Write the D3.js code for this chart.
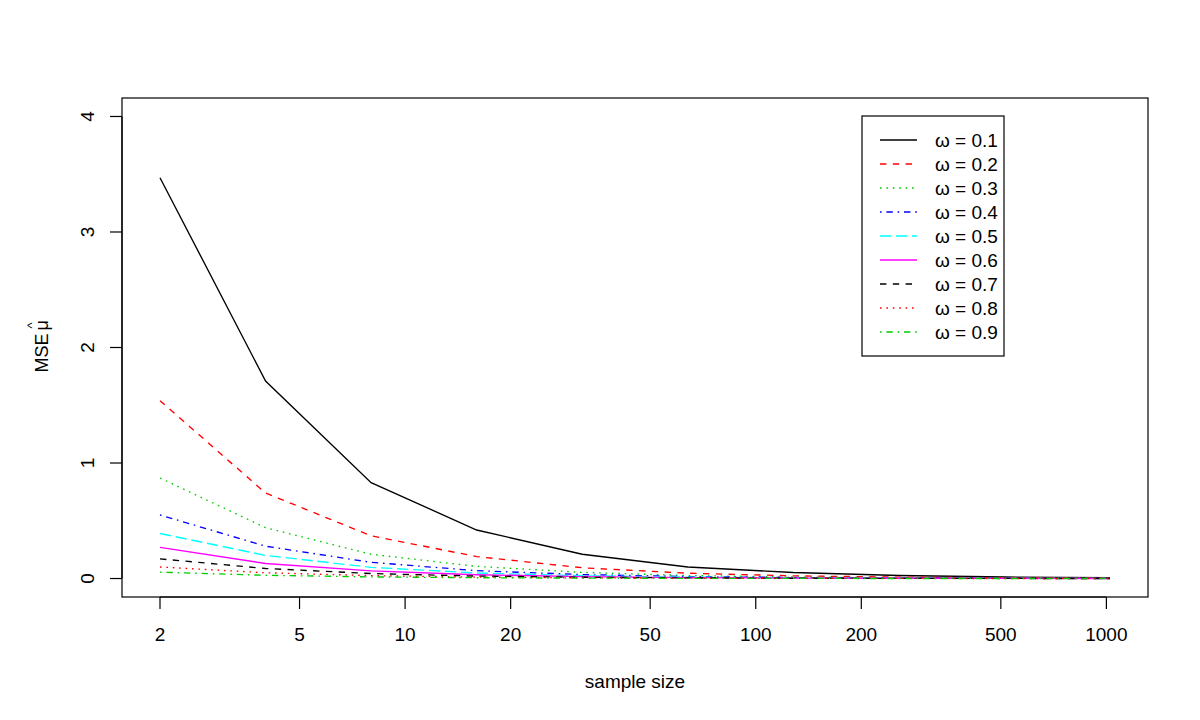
<!DOCTYPE html>
<html>
<head>
<meta charset="utf-8">
<script src="https://cdn.jsdelivr.net/npm/d3@7"></script>
<style>
  html, body { margin: 0; padding: 0; background: #fff; }
  svg { display: block; }
  text { font-family: "Liberation Sans", Arial, Helvetica, sans-serif; fill: #000; }
</style>
</head>
<body>
<svg id="chart" width="1200" height="720"></svg>
<script>
// ---- data ----
const sampleSizes = [2, 4, 8, 16, 32, 64, 128, 256, 512, 1024];
const omegaLabels = ["0.1", "0.2", "0.3", "0.4", "0.5", "0.6", "0.7", "0.8", "0.9"];
const mse01 = [3.47, 1.71, 0.83, 0.42, 0.21, 0.10, 0.052, 0.026, 0.013, 0.0065];
const mse02 = [1.54, 0.74, 0.37, 0.19, 0.093, 0.046, 0.023, 0.012, 0.006, 0.003];
const mse03 = [0.87, 0.44, 0.21, 0.105, 0.053, 0.026, 0.013, 0.0066, 0.0033, 0.0016];
const mse04 = [0.55, 0.28, 0.14, 0.068, 0.034, 0.017, 0.0085, 0.0042, 0.0021, 0.001];
const mse05 = [0.39, 0.20, 0.097, 0.048, 0.024, 0.012, 0.006, 0.003, 0.0015, 0.0007];
const mse06 = [0.27, 0.13, 0.066, 0.033, 0.016, 0.008, 0.004, 0.002, 0.001, 0.0005];
const mse07 = [0.17, 0.087, 0.043, 0.021, 0.011, 0.0053, 0.0027, 0.0013, 0.0007, 0.0003];
const mse08 = [0.10, 0.05, 0.025, 0.0125, 0.006, 0.003, 0.0015, 0.0008, 0.0004, 0.0002];
const mse09 = [0.055, 0.028, 0.014, 0.007, 0.0035, 0.0017, 0.0009, 0.0004, 0.0002, 0.0001];
const seriesValues = [mse01, mse02, mse03, mse04, mse05, mse06, mse07, mse08, mse09];
const xTicks = [2, 5, 10, 20, 50, 100, 200, 500, 1000];
const yTicks = [0, 1, 2, 3, 4];

// ---- styles (R matplot defaults: col 1:6, lty 1:5) ----
const colors = ["#000000", "#FF0000", "#00CD00", "#0000FF", "#00FFFF", "#FF00FF", "#000000", "#FF0000", "#00CD00"];
const s = 1.6;
const dashes = [null, [4*s,4*s], [1*s,3*s], [1*s,3*s,4*s,3*s], [7*s,3*s], null, [4*s,4*s], [1*s,3*s], [1*s,3*s,4*s,3*s]];

const svg = d3.select("#chart");
const L = 122, R = 1148, T = 98, B = 597;
const FS = 19;

// R-style 4% extension in log space
const lx0 = Math.log10(2), lx1 = Math.log10(1024), ext = (lx1 - lx0) * 0.04;
const x = d3.scaleLog().domain([Math.pow(10, lx0 - ext), Math.pow(10, lx1 + ext)]).range([L, R]);
const y = d3.scaleLinear().domain([-0.16, 4.16]).range([B, T]);

// Lines
const line = d3.line().x(d => x(d[0])).y(d => y(d[1]));
seriesValues.forEach((vals, i) => {
  const pts = sampleSizes.map((n, j) => [n, vals[j]]);
  svg.append("path")
    .attr("d", line(pts))
    .attr("fill", "none")
    .attr("stroke", colors[i])
    .attr("stroke-width", 1.35)
    .attr("stroke-dasharray", dashes[i] ? dashes[i].join(",") : null);
});

// Box
svg.append("rect").attr("x", L).attr("y", T).attr("width", R - L).attr("height", B - T)
  .attr("fill", "none").attr("stroke", "#000").attr("stroke-width", 1.2);

// X axis
const xAxis = svg.append("g");
xAxis.append("line").attr("x1", x(2)).attr("x2", x(1000)).attr("y1", B).attr("y2", B)
  .attr("stroke", "#000").attr("stroke-width", 1.2);
xTicks.forEach(t => {
  xAxis.append("line").attr("x1", x(t)).attr("x2", x(t)).attr("y1", B).attr("y2", B + 12)
    .attr("stroke", "#000").attr("stroke-width", 1.2);
  xAxis.append("text").attr("x", x(t)).attr("y", 641).attr("text-anchor", "middle")
    .attr("font-size", FS).text(t);
});

// Y axis
const yAxis = svg.append("g");
yAxis.append("line").attr("x1", L).attr("x2", L).attr("y1", y(0)).attr("y2", y(4))
  .attr("stroke", "#000").attr("stroke-width", 1.2);
yTicks.forEach(t => {
  yAxis.append("line").attr("x1", L - 12).attr("x2", L).attr("y1", y(t)).attr("y2", y(t))
    .attr("stroke", "#000").attr("stroke-width", 1.2);
  yAxis.append("text").attr("transform", `translate(94,${y(t)}) rotate(-90)`)
    .attr("text-anchor", "middle").attr("font-size", FS).text(t);
});

// Axis titles
svg.append("text").attr("x", (L + R) / 2).attr("y", 688).attr("text-anchor", "middle")
  .attr("font-size", FS).text("sample size");
const yt = svg.append("g").attr("transform", `translate(48,${(T + B) / 2}) rotate(-90)`);
yt.append("text").attr("x", -25).attr("y", 0).attr("font-size", 18).text("MSE");
yt.append("text").attr("x", 17).attr("y", 0).attr("font-size", 18).text("μ");
yt.append("text").attr("x", 22).attr("y", -12.5).attr("text-anchor", "middle")
  .attr("font-size", 13).text("^");

// Legend
const lg = svg.append("g");
lg.append("rect").attr("x", 862).attr("y", 116).attr("width", 142).attr("height", 240)
  .attr("fill", "#fff").attr("stroke", "#000").attr("stroke-width", 1.2);
omegaLabels.forEach((lab, i) => {
  const cy = 140 + i * 24;
  lg.append("line").attr("x1", 880).attr("x2", 917).attr("y1", cy).attr("y2", cy)
    .attr("stroke", colors[i]).attr("stroke-width", 1.35)
    .attr("stroke-dasharray", dashes[i] ? dashes[i].join(",") : null);
  lg.append("text").attr("x", 935).attr("y", cy + 7).attr("font-size", FS)
    .text("ω = " + lab);
});
</script>
</body>
</html>
